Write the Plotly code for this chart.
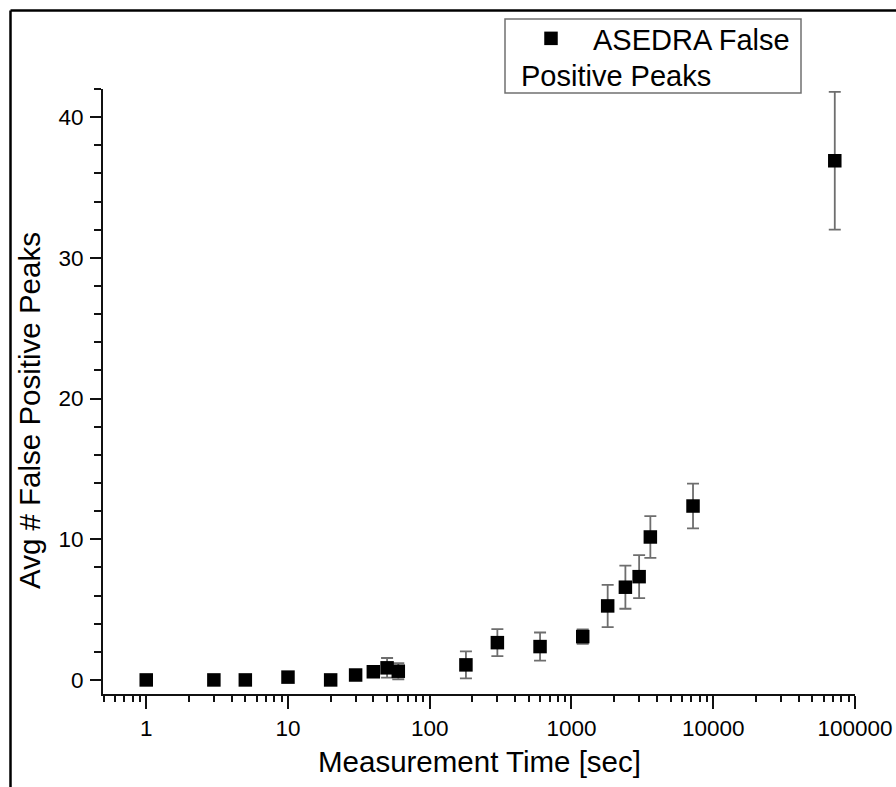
import math
import plotly.graph_objects as go

# ---- data ----
meas_time = [1, 3, 5, 10, 20, 30, 40, 50, 60, 180, 300, 600, 1200, 1800, 2400, 3000, 3600, 7200, 72000]
avg_fp = [0, 0, 0, 0.2, 0, 0.35, 0.58, 0.86, 0.62, 1.07, 2.65, 2.37, 3.08, 5.26, 6.59, 7.34, 10.16, 12.36, 36.9]
fp_err = [0, 0, 0, 0.15, 0, 0.2, 0.25, 0.7, 0.57, 0.96, 0.96, 1.0, 0.52, 1.5, 1.53, 1.53, 1.48, 1.59, 4.9]

x_tickvals = [1, 10, 100, 1000, 10000, 100000]
x_ticktext = ["1", "10", "100", "1000", "10000", "100000"]
y_tickvals = [0, 10, 20, 30, 40]
y_ticktext = ["0", "10", "20", "30", "40"]

series_name = "ASEDRA False"
series_name_cont = "Positive Peaks"
x_title = "Measurement Time [sec]"
y_title = "Avg # False Positive Peaks"

# ---- layout geometry (pixels) ----
W, H = 896, 787
ML, MR, MT, MB = 103, 41, 89, 93
PW, PH = W - ML - MR, H - MT - MB

def px(xp):
    return (xp - ML) / PW

def py(yp):
    return (H - MB - yp) / PH

FONT = "Arial, Liberation Sans, sans-serif"

fig = go.Figure()
fig.add_trace(go.Scatter(
    x=meas_time, y=avg_fp, mode="markers", name=series_name,
    marker=dict(symbol="square", size=13.5, color="black", line=dict(width=0)),
    error_y=dict(type="data", array=fp_err, visible=True, color="#6e6e6e", thickness=1.8, width=6),
))

shapes = [
    # outer frame (top and left)
    dict(type="line", xref="paper", yref="paper", x0=px(10.5), x1=px(W + 2), y0=py(10.5), y1=py(10.5),
         line=dict(color="black", width=2.5)),
    dict(type="line", xref="paper", yref="paper", x0=px(10.5), x1=px(10.5), y0=py(10.5), y1=py(H + 2),
         line=dict(color="black", width=2.5)),
    # legend box
    dict(type="rect", xref="paper", yref="paper", x0=px(505), x1=px(801), y0=py(19), y1=py(93),
         line=dict(color="#707070", width=1.5), fillcolor="rgba(0,0,0,0)"),
]

annotations = [
    dict(text=series_name_cont, xref="paper", yref="paper", x=px(519), y=py(76), xanchor="left", yanchor="middle",
         showarrow=False, font=dict(family=FONT, size=29, color="black")),
    dict(text=x_title, xref="paper", yref="paper", x=0.5, y=py(761), xanchor="center", yanchor="middle",
         showarrow=False, font=dict(family=FONT, size=29.5, color="black")),
    dict(text=y_title, xref="paper", yref="paper", x=px(29), y=py(411), xanchor="center", yanchor="middle",
         textangle=-90, showarrow=False, font=dict(family=FONT, size=29.5, color="black")),
]

fig.update_layout(
    width=W, height=H,
    margin=dict(l=ML, r=MR, t=MT, b=MB, autoexpand=False),
    paper_bgcolor="white", plot_bgcolor="white",
    font=dict(family=FONT, color="black"),
    showlegend=True,
    legend=dict(x=px(509), y=py(13), xanchor="left", yanchor="top", bgcolor="rgba(0,0,0,0)",
                borderwidth=0, font=dict(family=FONT, size=29, color="black"), itemwidth=74),
    shapes=shapes,
    annotations=annotations,
    xaxis=dict(
        type="log", range=[-0.305, 5], showline=True, linecolor="#111", linewidth=2,
        showgrid=False, zeroline=False, mirror=False,
        tickmode="array", tickvals=x_tickvals, ticktext=x_ticktext,
        ticks="outside", ticklen=13, tickwidth=2, tickcolor="#111",
        tickfont=dict(family=FONT, size=22.5, color="black"),
        minor=dict(ticks="outside", ticklen=6, tickwidth=2, tickcolor="#111", dtick="D1", showgrid=False),
    ),
    yaxis=dict(
        range=[-1, 42], showline=True, linecolor="#111", linewidth=2,
        showgrid=False, zeroline=False, mirror=False,
        tickmode="array", tickvals=y_tickvals, ticktext=y_ticktext,
        ticks="outside", ticklen=11, tickwidth=2, tickcolor="#111",
        tickfont=dict(family=FONT, size=22.5, color="black"), ticklabelstandoff=2,
        minor=dict(ticks="outside", ticklen=7, tickwidth=2, tickcolor="#111", dtick=2, showgrid=False),
    ),
)

fig.write_html("out.html")
